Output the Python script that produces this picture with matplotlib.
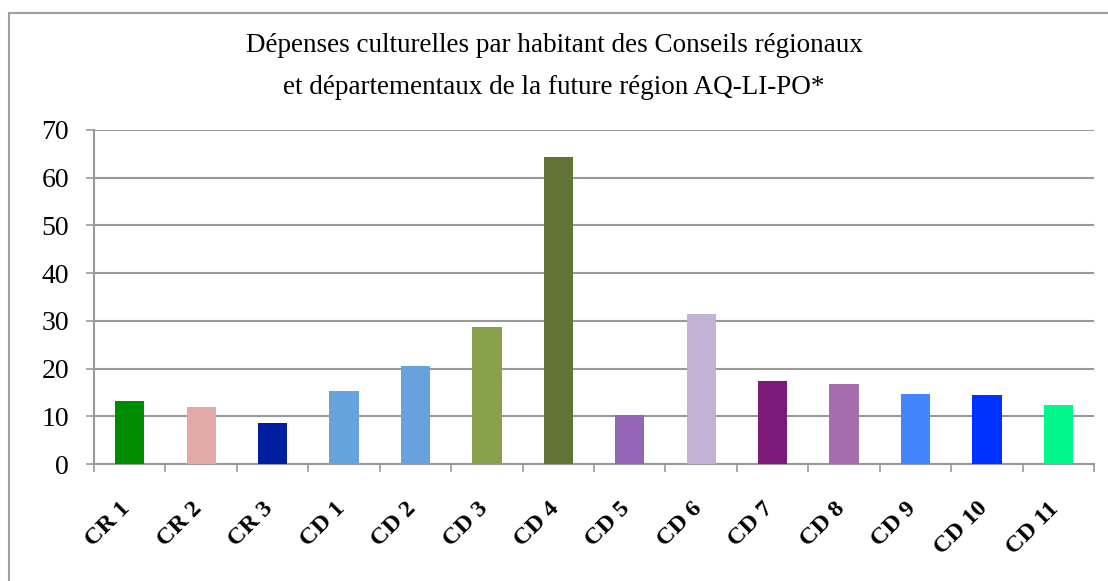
import matplotlib.pyplot as plt
from matplotlib.patches import Rectangle
from matplotlib.transforms import ScaledTranslation

categories = ['CR 1', 'CR 2', 'CR 3', 'CD 1', 'CD 2', 'CD 3', 'CD 4',
              'CD 5', 'CD 6', 'CD 7', 'CD 8', 'CD 9', 'CD 10', 'CD 11']
values = [13.2, 11.9, 8.6, 15.3, 20.5, 28.7, 64.4,
          10.3, 31.5, 17.4, 16.8, 14.7, 14.5, 12.4]
colors = ['#008C00', '#E2A8A6', '#001EA0', '#66A3DE', '#66A3DE', '#8AA14C',
          '#617436', '#9466B8', '#C3B2D6', '#7B1A78', '#A46EAF', '#4285FF',
          '#0032FF', '#00F88A']
yticks = [0, 10, 20, 30, 40, 50, 60, 70]
title1 = "Dépenses culturelles par habitant des Conseils régionaux"
title2 = "et départementaux de la future région AQ-LI-PO*"

plt.rcParams['font.family'] = ['Liberation Serif', 'DejaVu Serif']

fig = plt.figure(figsize=(11.08, 5.81), dpi=100)
fig.patches.append(Rectangle((9 / 1108, -0.1), 1.2, 1.1 - 13 / 581,
                             transform=fig.transFigure, fill=False,
                             edgecolor='#A0A0A0', linewidth=1.5))

ax = fig.add_axes([94 / 1108, 117 / 581, 1000 / 1108, 334 / 581])
x = range(len(categories))
ax.bar(x, values, width=0.41, color=colors, zorder=3)

ax.set_xlim(-0.5, len(categories) - 0.5)
ax.set_ylim(0, 70)
ax.set_yticks(yticks)
ax.tick_params(axis='y', labelsize=20, length=6, color='#999999', width=1.2,
               pad=12)
ax.yaxis.grid(True, color='#999999', linewidth=1.5, zorder=0)

ax.set_xticks([i - 0.5 for i in range(len(categories) + 1)], minor=False)
ax.set_xticklabels([])
ax.tick_params(axis='x', length=6, color='#999999', width=1.2)
ax.set_xticks(list(x), minor=True)
ax.set_xticklabels(categories, minor=True, rotation=45, ha='right',
                   rotation_mode='anchor', fontsize=17.5, fontweight='bold')
ax.tick_params(axis='x', which='minor', length=0, pad=24.5)
shift = ScaledTranslation(-10 / 100, 0, fig.dpi_scale_trans)
for lab in ax.get_xticklabels(minor=True):
    lab.set_transform(lab.get_transform() + shift)

for side in ['top', 'right']:
    ax.spines[side].set_visible(False)
ax.spines['left'].set_color('#999999')
ax.spines['bottom'].set_color('#999999')
ax.spines['left'].set_linewidth(1.5)
ax.spines['bottom'].set_linewidth(1.5)

fig.text(0.5, 1 - 45 / 581, title1, ha='center', va='center', fontsize=19.5)
fig.text(0.5, 1 - 88 / 581, title2, ha='center', va='center', fontsize=19.5)

fig.savefig('out.png', dpi=100)
